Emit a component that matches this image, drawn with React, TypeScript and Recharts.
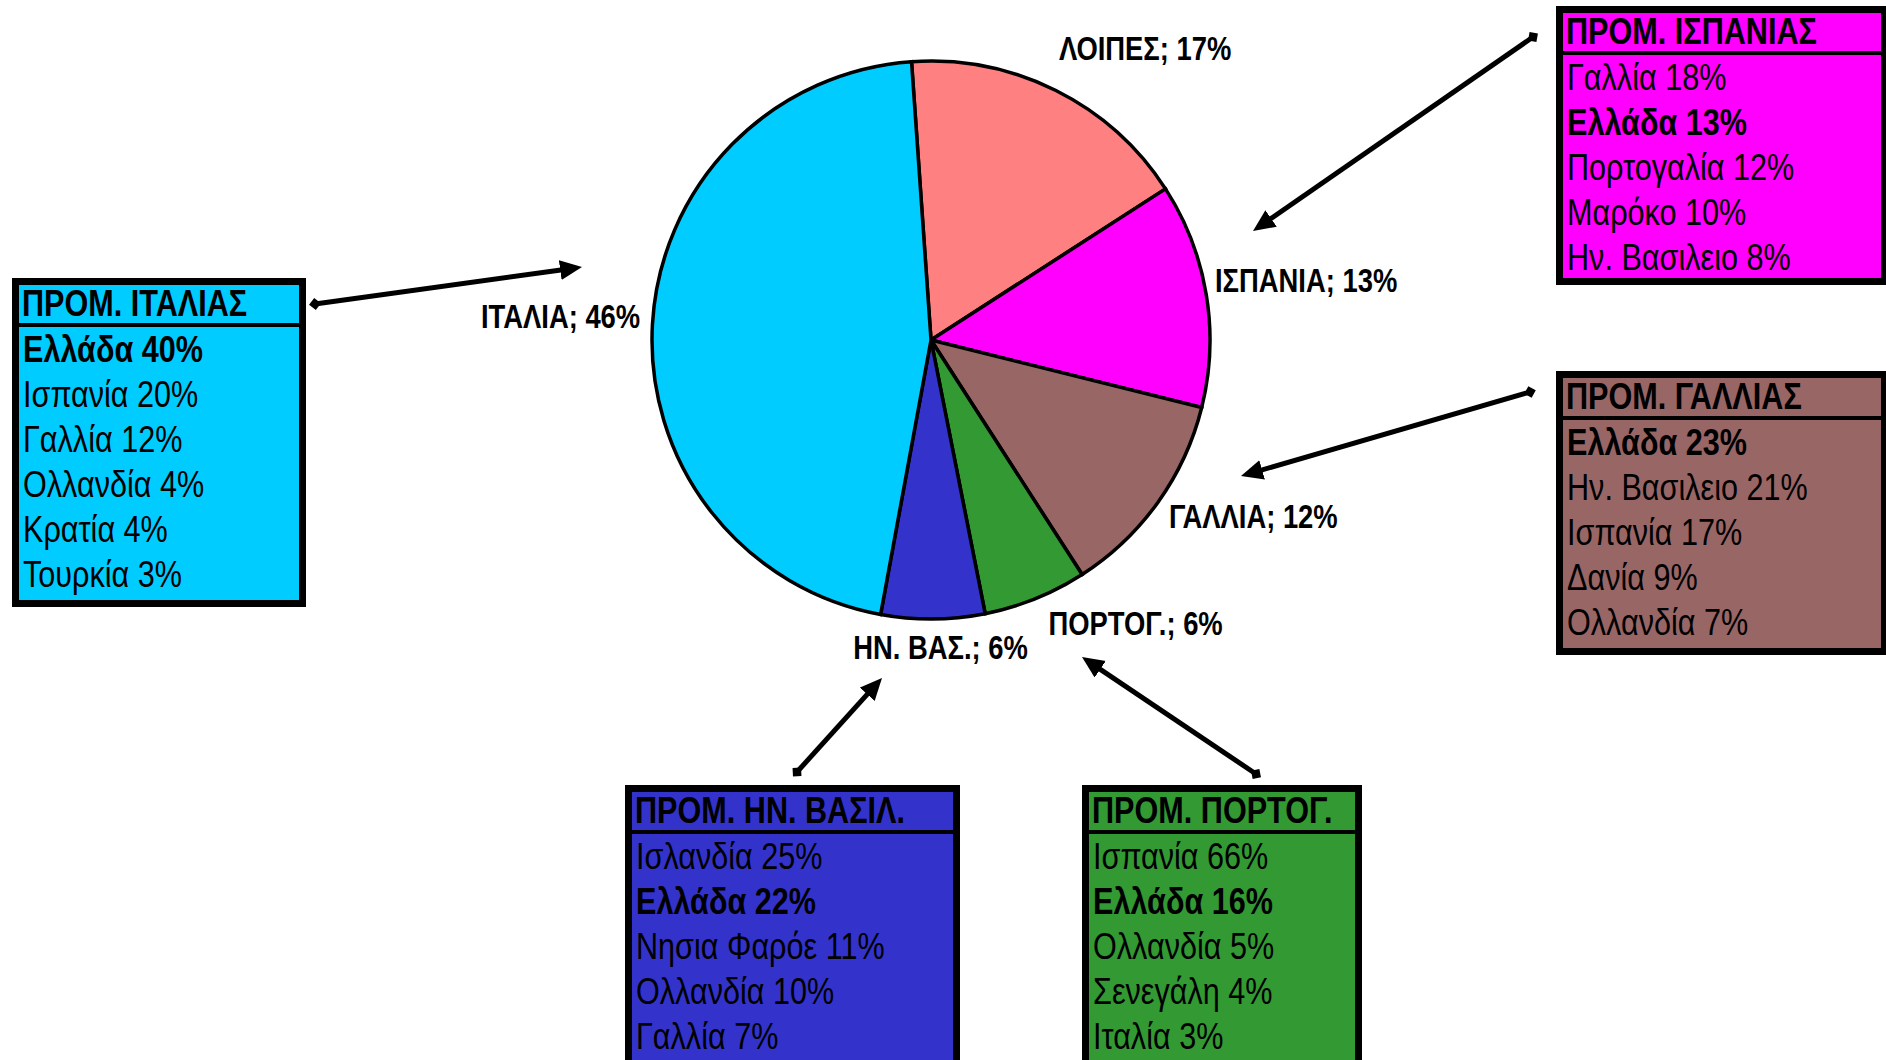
// Πίνακας: μερίδια εξαγωγών ανά χώρα προορισμού, με τους κύριους προμηθευτές κάθε χώρας
import { PieChart, Pie, Cell } from "recharts";

const W = 1886;
const H = 1060;
const FONT = "'Liberation Sans', Arial, sans-serif";
// no narrow font installed, so squeeze Liberation Sans horizontally
const SQUEEZE_BOX = 0.85;
const SQUEEZE_LABEL = 0.83;

// ---------------------------------------------------------------------------
// Data
// ---------------------------------------------------------------------------
const SLICE_NAMES = ["ΛΟΙΠΕΣ", "ΙΣΠΑΝΙΑ", "ΓΑΛΛΙΑ", "ΠΟΡΤΟΓ.", "ΗΝ. ΒΑΣ.", "ΙΤΑΛΙΑ"];
const SLICE_SHARES = [17, 13, 12, 6, 6, 46];
const SLICE_COLORS = ["#FF8080", "#FF00FF", "#996666", "#339933", "#3333CC", "#00CCFF"];

const ITALY_PARTNERS = ["Ελλάδα", "Ισπανία", "Γαλλία", "Ολλανδία", "Κρατία", "Τουρκία"];
const ITALY_SHARES = [40, 20, 12, 4, 4, 3];

const SPAIN_PARTNERS = ["Γαλλία", "Ελλάδα", "Πορτογαλία", "Μαρόκο", "Ην. Βασιλειο"];
const SPAIN_SHARES = [18, 13, 12, 10, 8];

const FRANCE_PARTNERS = ["Ελλάδα", "Ην. Βασιλειο", "Ισπανία", "Δανία", "Ολλανδία"];
const FRANCE_SHARES = [23, 21, 17, 9, 7];

const UK_PARTNERS = ["Ισλανδία", "Ελλάδα", "Νησια Φαρόε", "Ολλανδία", "Γαλλία"];
const UK_SHARES = [25, 22, 11, 10, 7];

const PORTUGAL_PARTNERS = ["Ισπανία", "Ελλάδα", "Ολλανδία", "Σενεγάλη", "Ιταλία"];
const PORTUGAL_SHARES = [66, 16, 5, 4, 3];

const pieData = SLICE_NAMES.map((name, i) => ({ name, value: SLICE_SHARES[i] }));

// label nudges relative to the polar point at outerRadius + 83 (Excel placed them by hand)
const LABEL_NUDGE: Record<string, [number, number]> = {
  "ΛΟΙΠΕΣ": [52, 44],
  "ΙΣΠΑΝΙΑ": [18, 11],
  "ΓΑΛΛΙΑ": [28, -23],
  "ΠΟΡΤΟΓ.": [69, -41],
  "ΗΝ. ΒΑΣ.": [7, -43],
  "ΙΤΑΛΙΑ": [-9, 8],
};

const RAD = Math.PI / 180;

const renderLabel = (props: any) => {
  const { cx, cy, midAngle, outerRadius, name, value } = props;
  const r = outerRadius + 83;
  const [dx, dy] = LABEL_NUDGE[name] ?? [0, 0];
  const x = cx + r * Math.cos(-midAngle * RAD) + dx;
  const y = cy + r * Math.sin(-midAngle * RAD) + dy;
  return (
    <text
      x={0}
      y={0}
      transform={`translate(${x},${y}) scale(${SQUEEZE_LABEL},1)`}
      textAnchor="middle"
      fill="#000"
      fontFamily={FONT}
      fontWeight="bold"
      fontSize={33}
    >
      {`${name}; ${value}%`}
    </text>
  );
};

// ---------------------------------------------------------------------------
// Supplier boxes
// ---------------------------------------------------------------------------
interface BoxProps {
  title: string;
  partners: string[];
  shares: number[];
  fill: string;
  left: number;
  top: number;
  width: number;
  height: number;
}

const squeeze: React.CSSProperties = {
  display: "inline-block",
  transform: `scaleX(${SQUEEZE_BOX})`,
  transformOrigin: "0 50%",
};

const SupplierBox = ({ title, partners, shares, fill, left, top, width, height }: BoxProps) => (
  <div
    style={{
      position: "absolute",
      left,
      top,
      width,
      height,
      boxSizing: "border-box",
      border: "7px solid #000",
      background: "#000",
      fontFamily: FONT,
      color: "#000",
      fontSize: 36,
    }}
  >
    <div
      style={{
        background: fill,
        height: 38,
        lineHeight: "38px",
        fontWeight: "bold",
        paddingLeft: 3,
        whiteSpace: "nowrap",
      }}
    >
      <span style={squeeze}>{title}</span>
    </div>
    <div
      style={{
        background: fill,
        marginTop: 4,
        height: height - 14 - 42,
        paddingLeft: 4,
        whiteSpace: "nowrap",
        overflow: "hidden",
      }}
    >
      {partners.map((p, i) => (
        <div
          key={p}
          style={{ lineHeight: "45px", fontWeight: p === "Ελλάδα" ? "bold" : "normal" }}
        >
          <span style={squeeze}>{`${p} ${shares[i]}%`}</span>
        </div>
      ))}
    </div>
  </div>
);

// arrows: [diamond end, arrow tip]
const ARROWS: [number, number, number, number][] = [
  [315, 304, 582, 267],
  [1533, 37, 1253, 231],
  [1530, 392, 1241, 476],
  [797, 772, 882, 678],
  [1256, 774, 1082, 657],
];

const Arrows = () => (
  <svg
    width={W}
    height={H}
    style={{ position: "absolute", left: 0, top: 0, pointerEvents: "none" }}
  >
    <defs>
      <marker
        id="head"
        markerUnits="userSpaceOnUse"
        markerWidth={24}
        markerHeight={22}
        refX={8}
        refY={10}
        orient="auto"
      >
        <path d="M0,0 L22,10 L0,20 Z" fill="#000" />
      </marker>
      <marker
        id="diamond"
        markerUnits="userSpaceOnUse"
        markerWidth={14}
        markerHeight={14}
        refX={6}
        refY={6}
        orient="auto"
      >
        <path d="M0,6 L6,0 L12,6 L6,12 Z" fill="#000" />
      </marker>
    </defs>
    {ARROWS.map(([x1, y1, x2, y2], i) => {
      const len = Math.hypot(x2 - x1, y2 - y1);
      const ux = (x2 - x1) / len;
      const uy = (y2 - y1) / len;
      return (
        <line
          key={i}
          x1={x1}
          y1={y1}
          x2={x2 - ux * 14}
          y2={y2 - uy * 14}
          stroke="#000"
          strokeWidth={5}
          markerStart="url(#diamond)"
          markerEnd="url(#head)"
        />
      );
    })}
  </svg>
);

// ============================================================================
// APP
// ============================================================================
export default function App() {
  return (
    <div
      style={{
        position: "absolute",
        left: 0,
        top: 0,
        width: W,
        height: H,
        background: "#fff",
        overflow: "hidden",
      }}
    >
      <PieChart width={W} height={H} margin={{ top: 0, right: 0, bottom: 0, left: 0 }}>
        <Pie
          data={pieData}
          dataKey="value"
          nameKey="name"
          cx={931}
          cy={340}
          outerRadius={279}
          startAngle={94}
          endAngle={-266}
          stroke="#000"
          strokeWidth={3.5}
          labelLine={false}
          label={renderLabel}
          isAnimationActive={false}
        >
          {pieData.map((d, i) => (
            <Cell key={d.name} fill={SLICE_COLORS[i]} />
          ))}
        </Pie>
      </PieChart>

      <SupplierBox
        title="ΠΡΟΜ. ΙΤΑΛΙΑΣ"
        partners={ITALY_PARTNERS}
        shares={ITALY_SHARES}
        fill="#00CCFF"
        left={12}
        top={278}
        width={294}
        height={329}
      />
      <SupplierBox
        title="ΠΡΟΜ. ΙΣΠΑΝΙΑΣ"
        partners={SPAIN_PARTNERS}
        shares={SPAIN_SHARES}
        fill="#FF00FF"
        left={1556}
        top={6}
        width={332}
        height={279}
      />
      <SupplierBox
        title="ΠΡΟΜ. ΓΑΛΛΙΑΣ"
        partners={FRANCE_PARTNERS}
        shares={FRANCE_SHARES}
        fill="#996666"
        left={1556}
        top={371}
        width={332}
        height={284}
      />
      <SupplierBox
        title="ΠΡΟΜ. ΗΝ. ΒΑΣΙΛ."
        partners={UK_PARTNERS}
        shares={UK_SHARES}
        fill="#3333CC"
        left={625}
        top={785}
        width={335}
        height={290}
      />
      <SupplierBox
        title="ΠΡΟΜ. ΠΟΡΤΟΓ."
        partners={PORTUGAL_PARTNERS}
        shares={PORTUGAL_SHARES}
        fill="#339933"
        left={1082}
        top={785}
        width={280}
        height={290}
      />

      <Arrows />
    </div>
  );
}
